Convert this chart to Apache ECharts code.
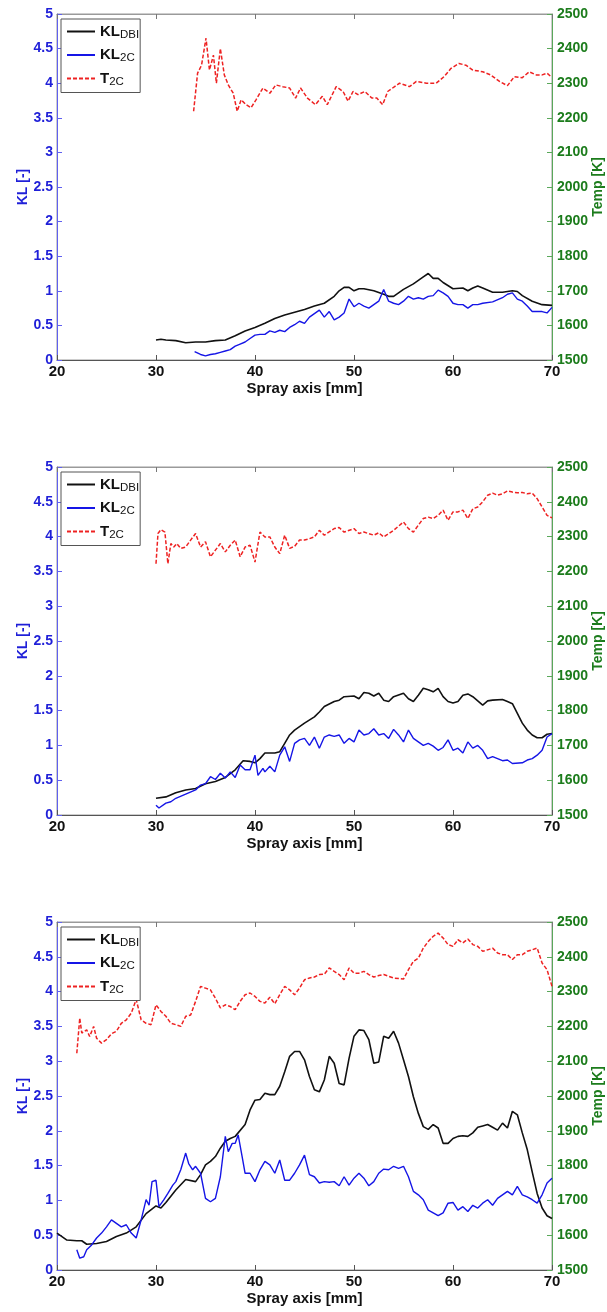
<!DOCTYPE html>
<html>
<head>
<meta charset="utf-8">
<title>KL and temperature along the spray axis</title>
<script src="https://cdn.jsdelivr.net/npm/echarts@6/dist/echarts.min.js"></script>
<style>
  html, body { margin: 0; padding: 0; background: #fff; }
  #chart { width: 607px; height: 1312px; }
</style>
</head>
<body>
<div id="chart"></div>
<script>
// ---- data: [spray axis position (mm), value] ----
// Case 1
const dbi1 = [[30,0.29],[30.5,0.30],[31,0.29],[32,0.28],[33,0.25],[34,0.26],[35,0.26],[36,0.28],[37,0.29],[38,0.35],[39,0.42],[40,0.47],[41,0.53],[42,0.60],[43,0.65],[44,0.69],[45,0.73],[46,0.78],[47,0.82],[48,0.92],[48.5,1.00],[49,1.05],[49.5,1.05],[50,1.00],[50.5,1.03],[51,1.03],[52,1.00],[53,0.95],[53.5,0.92],[54,0.92],[55,1.02],[56,1.10],[57,1.20],[57.5,1.25],[58,1.18],[58.5,1.18],[59,1.12],[60,1.03],[61,1.04],[61.5,1.00],[62,1.04],[62.5,1.07],[63,1.04],[64,0.98],[65,0.98],[66,1.00],[66.5,0.99],[67,0.93],[68,0.85],[69,0.80],[70,0.79]];
const kl2c1 = [[33.9,0.12],[34.5,0.08],[35,0.06],[35.5,0.08],[36,0.09],[36.5,0.11],[37,0.13],[37.5,0.15],[38,0.20],[38.5,0.23],[39,0.26],[39.5,0.31],[40,0.36],[40.5,0.37],[41,0.37],[41.5,0.42],[42,0.40],[42.5,0.43],[43,0.41],[43.5,0.47],[44,0.51],[44.5,0.56],[45,0.53],[45.5,0.62],[46,0.67],[46.5,0.72],[47,0.62],[47.5,0.70],[48,0.58],[48.5,0.62],[49,0.68],[49.5,0.88],[50,0.77],[50.5,0.82],[51,0.78],[51.5,0.75],[52,0.80],[52.5,0.85],[53,1.02],[53.5,0.85],[54,0.82],[54.5,0.80],[55,0.85],[55.5,0.92],[56,0.88],[56.5,0.90],[57,0.88],[57.5,0.92],[58,0.93],[58.5,1.01],[59,0.97],[59.5,0.92],[60,0.82],[60.5,0.80],[61,0.80],[61.5,0.75],[62,0.80],[62.5,0.80],[63,0.82],[64,0.84],[65,0.90],[65.5,0.95],[66,0.97],[66.5,0.88],[67,0.85],[67.5,0.78],[68,0.70],[69,0.70],[69.5,0.68],[70,0.76]];
const t2c1 = [[33.8,2219],[34.2,2329],[34.6,2352],[35.05,2430],[35.4,2338],[35.8,2381],[36.1,2300],[36.5,2400],[36.9,2324],[37.3,2295],[37.8,2271],[38.2,2219],[38.6,2252],[39.1,2238],[39.6,2229],[40.1,2252],[40.8,2286],[41.5,2271],[42.1,2295],[42.8,2290],[43.5,2286],[44.1,2257],[44.6,2286],[45.3,2257],[46.1,2238],[46.8,2262],[47.3,2238],[48.2,2290],[48.9,2276],[49.4,2248],[49.9,2276],[50.4,2267],[51.1,2276],[51.8,2257],[52.3,2257],[52.9,2238],[53.4,2276],[54.1,2290],[54.6,2300],[55.6,2290],[56.3,2305],[57.3,2300],[58.3,2300],[59.1,2319],[59.8,2343],[60.6,2357],[61.3,2352],[62.0,2338],[63.0,2333],[63.8,2324],[64.7,2305],[65.5,2293],[66.2,2319],[67.0,2316],[67.7,2333],[68.4,2324],[69.0,2324],[69.5,2329],[69.9,2319]];

// Case 2
const dbi2 = [[30,0.24],[31,0.26],[32,0.32],[33,0.36],[34,0.38],[35,0.45],[36,0.48],[37,0.54],[38,0.65],[38.8,0.78],[39.5,0.77],[40,0.75],[40.5,0.81],[41,0.89],[42,0.89],[42.5,0.91],[43,1.03],[43.5,1.15],[44,1.22],[45,1.32],[46,1.41],[46.5,1.48],[47,1.56],[48,1.63],[48.5,1.65],[49,1.70],[50,1.71],[50.5,1.67],[51,1.76],[51.5,1.75],[52,1.71],[52.5,1.75],[53,1.65],[53.5,1.63],[54,1.70],[55,1.75],[55.5,1.67],[56,1.63],[56.5,1.72],[57,1.82],[57.5,1.80],[58,1.77],[58.5,1.82],[59,1.70],[59.5,1.63],[60,1.61],[60.5,1.63],[61,1.72],[61.5,1.74],[62,1.70],[63,1.58],[63.5,1.64],[64,1.65],[65,1.66],[65.5,1.63],[66,1.60],[66.5,1.46],[67,1.32],[67.5,1.22],[68,1.15],[68.5,1.11],[69,1.11],[69.5,1.16],[70,1.17]];
const kl2c2 = [[30,0.14],[30.3,0.10],[31,0.17],[31.5,0.19],[32,0.24],[33,0.30],[34,0.36],[34.5,0.43],[35,0.45],[35.5,0.55],[36,0.51],[36.5,0.60],[37,0.53],[37.5,0.62],[38,0.54],[38.5,0.72],[39,0.65],[39.5,0.65],[40,0.86],[40.3,0.57],[40.8,0.67],[41,0.62],[41.5,0.70],[42,0.62],[42.5,0.86],[43,0.98],[43.5,0.77],[44,1.03],[44.5,1.08],[45,1.10],[45.5,1.00],[46,1.12],[46.5,0.96],[47,1.12],[47.5,1.15],[48,1.13],[48.5,1.15],[49,1.03],[49.5,1.10],[50,1.05],[50.5,1.22],[51,1.15],[51.5,1.17],[52,1.24],[52.5,1.15],[53,1.17],[53.5,1.10],[54,1.23],[54.5,1.15],[55,1.05],[55.5,1.22],[56,1.10],[57,1.00],[57.5,1.03],[58,0.99],[58.5,0.93],[59,0.97],[59.5,1.08],[60,0.93],[60.5,0.96],[61,0.89],[61.5,1.05],[62,0.96],[62.5,1.00],[63,0.93],[63.5,0.81],[64,0.84],[65,0.78],[65.5,0.79],[66,0.74],[67,0.75],[67.5,0.79],[68,0.81],[68.5,0.86],[69,0.93],[69.5,1.12],[70,1.17]];
const t2c2 = [[30,2222],[30.2,2309],[30.5,2320],[30.9,2313],[31.2,2222],[31.5,2280],[31.8,2270],[32.1,2280],[32.5,2266],[33,2270],[33.5,2290],[34,2309],[34.5,2270],[35,2285],[35.5,2242],[36,2261],[36.5,2280],[37,2256],[37.5,2275],[38,2290],[38.5,2242],[39,2270],[39.5,2275],[40,2227],[40.5,2313],[41,2299],[41.5,2299],[42,2270],[42.5,2251],[43,2304],[43.5,2266],[44,2272],[44.5,2290],[45,2290],[45.5,2294],[46,2299],[46.5,2318],[47,2304],[48,2323],[48.5,2326],[49,2313],[50,2323],[50.5,2309],[51,2313],[52,2304],[52.5,2311],[53,2299],[54,2318],[55,2342],[55.5,2323],[56,2313],[56.5,2333],[57,2352],[57.5,2356],[58,2352],[58.5,2361],[59,2376],[59.5,2347],[60,2371],[60.5,2371],[61,2376],[61.5,2352],[62,2380],[62.5,2385],[63,2400],[63.5,2419],[64,2425],[64.5,2419],[65,2423],[65.5,2431],[66,2428],[66.5,2426],[67,2427],[67.5,2423],[68,2425],[68.5,2409],[69,2385],[69.5,2361],[70,2354]];

// Case 3
const dbi3 = [[20,0.53],[21,0.43],[22,0.42],[22.5,0.42],[23,0.37],[24,0.38],[25,0.41],[26,0.48],[27,0.53],[28,0.62],[29,0.81],[30,0.92],[30.5,0.89],[31,0.97],[32,1.15],[33,1.30],[34,1.27],[34.5,1.37],[35,1.51],[35.5,1.56],[36,1.63],[36.5,1.75],[37,1.85],[37.5,1.89],[38,1.92],[39,2.09],[39.5,2.30],[40,2.44],[40.5,2.45],[41,2.54],[41.5,2.52],[42,2.52],[42.5,2.64],[43,2.85],[43.5,3.07],[44,3.14],[44.5,3.14],[45,3.02],[45.5,2.78],[46,2.59],[46.5,2.56],[47,2.73],[47.5,3.07],[48,2.97],[48.5,2.68],[49,2.66],[49.5,3.04],[50,3.36],[50.5,3.45],[51,3.44],[51.5,3.31],[52,2.97],[52.5,2.99],[53,3.36],[53.5,3.33],[54,3.43],[54.5,3.26],[55,3.02],[55.5,2.78],[56,2.49],[56.5,2.25],[57,2.06],[57.5,2.02],[58,2.09],[58.5,2.04],[59,1.82],[59.5,1.82],[60,1.89],[60.5,1.92],[61,1.93],[61.5,1.92],[62,1.97],[62.5,2.05],[63,2.07],[63.5,2.09],[64,2.05],[64.5,2.01],[65,2.11],[65.5,2.04],[66,2.28],[66.5,2.23],[67,1.97],[67.5,1.73],[68,1.41],[68.5,1.10],[69,0.89],[69.5,0.78],[70,0.74]];
const kl2c3 = [[22,0.29],[22.3,0.17],[22.7,0.19],[23,0.29],[23.5,0.36],[24,0.46],[24.5,0.53],[25,0.62],[25.5,0.72],[26,0.67],[26.5,0.62],[27,0.65],[27.5,0.53],[28,0.46],[28.5,0.72],[29,1.01],[29.3,0.93],[29.6,1.27],[30,1.29],[30.3,0.91],[30.8,1.01],[31.2,1.10],[31.7,1.22],[32,1.27],[32.5,1.44],[33,1.68],[33.3,1.53],[33.7,1.44],[34,1.49],[34.5,1.39],[35,1.03],[35.5,0.98],[36,1.03],[36.5,1.34],[37,1.92],[37.3,1.70],[37.7,1.82],[38,1.82],[38.3,1.94],[38.7,1.63],[39,1.39],[39.5,1.39],[40,1.27],[40.5,1.44],[41,1.56],[41.5,1.51],[42,1.39],[42.5,1.58],[43,1.29],[43.5,1.29],[44,1.39],[44.5,1.51],[45,1.65],[45.5,1.37],[46,1.34],[46.5,1.25],[47,1.27],[47.5,1.26],[48,1.27],[48.5,1.21],[49,1.34],[49.5,1.22],[50,1.32],[50.5,1.39],[51,1.32],[51.5,1.21],[52,1.27],[52.5,1.39],[53,1.45],[53.5,1.44],[54,1.49],[54.5,1.46],[55,1.49],[55.5,1.34],[56,1.13],[56.5,1.08],[57,1.01],[57.5,0.86],[58,0.82],[58.5,0.78],[59,0.82],[59.5,0.96],[60,0.97],[60.5,0.86],[61,0.91],[61.5,0.84],[62,0.93],[62.5,0.89],[63,0.96],[63.5,1.01],[64,0.93],[64.5,1.03],[65,1.08],[65.5,1.13],[66,1.08],[66.5,1.20],[67,1.08],[67.5,1.05],[68,1.01],[68.5,0.96],[69,1.08],[69.5,1.25],[70,1.32]];
const t2c3 = [[22,2123],[22.3,2224],[22.5,2181],[23,2190],[23.3,2171],[23.7,2200],[24,2166],[24.5,2152],[25,2162],[25.5,2179],[26,2186],[26.5,2209],[27,2219],[27.5,2238],[28,2277],[28.5,2219],[29,2209],[29.5,2205],[30,2262],[30.5,2243],[31,2229],[31.5,2209],[32,2205],[32.5,2200],[33,2229],[33.5,2233],[34,2272],[34.5,2315],[35,2310],[35.5,2305],[36,2281],[36.5,2253],[37,2262],[37.5,2257],[38,2248],[38.5,2272],[39,2291],[39.5,2296],[40,2286],[40.5,2272],[41,2267],[41.5,2284],[42,2265],[42.5,2291],[43,2315],[43.5,2305],[44,2291],[44.5,2310],[45,2334],[45.5,2339],[46,2342],[46.5,2349],[47,2350],[47.5,2368],[48,2358],[48.5,2349],[49,2334],[49.5,2368],[50,2353],[50.5,2353],[51,2358],[51.5,2349],[52,2342],[52.5,2346],[53,2349],[53.5,2344],[54,2339],[55,2336],[55.5,2363],[56,2387],[56.5,2396],[57,2425],[57.5,2444],[58,2459],[58.5,2468],[59,2454],[59.5,2435],[60,2430],[60.5,2449],[61,2440],[61.5,2451],[62,2435],[62.5,2430],[63,2416],[63.5,2420],[64,2425],[64.5,2411],[65,2406],[65.5,2406],[66,2392],[66.5,2406],[67,2406],[67.5,2416],[68,2420],[68.5,2425],[69,2382],[69.5,2363],[70,2315]];

const panels = [
  { dbi: dbi1, kl2c: kl2c1, t2c: t2c1 },
  { dbi: dbi2, kl2c: kl2c2, t2c: t2c2 },
  { dbi: dbi3, kl2c: kl2c3, t2c: t2c3 }
];

// ---- layout ----
const FONT = '"Liberation Sans", Arial, sans-serif';
const gridTops = [14, 467, 922];
const gridHeights = [346, 348, 348];
const GRID_LEFT = 57, GRID_RIGHT = 55;
const KL_COLOR = '#1f1fd8', KL_AXIS = '#6060f0';
const T_COLOR = '#1c7c1c', T_AXIS = '#5aa85a';

const grid = [], xAxis = [], yAxis = [], series = [], legend = [];

const legendNames = { KLDBI: '{b|KL}{s|DBI}', KL2C: '{b|KL}{s|2C}', T2C: '{b|T}{s|2C}' };

panels.forEach((p, i) => {
  grid.push({
    left: GRID_LEFT, right: GRID_RIGHT, top: gridTops[i], height: gridHeights[i],
    outerBoundsMode: 'none', containLabel: false,
    show: true, borderColor: '#9a9a9a', borderWidth: 1, backgroundColor: '#fff'
  });
  // bottom x axis
  xAxis.push({
    gridIndex: i, type: 'value', min: 20, max: 70, interval: 10, position: 'bottom',
    axisLine: { show: true, lineStyle: { color: '#555', width: 1 } },
    axisTick: { show: true, inside: true, length: 5, lineStyle: { color: '#555' } },
    axisLabel: { color: '#111', fontWeight: 'bold', fontSize: 15, fontFamily: FONT, margin: 4 },
    splitLine: { show: false },
    name: 'Spray axis [mm]', nameLocation: 'middle', nameGap: 21, nameMoveOverlap: false,
    nameTextStyle: { color: '#111', fontWeight: 'bold', fontSize: 15, fontFamily: FONT }
  });
  // left KL axis
  yAxis.push({
    gridIndex: i, type: 'value', min: 0, max: 5, interval: 0.5, position: 'left',
    axisLine: { show: true, lineStyle: { color: KL_AXIS, width: 1 } },
    axisTick: { show: true, inside: true, length: 5, lineStyle: { color: KL_AXIS } },
    axisLabel: { color: KL_COLOR, fontWeight: 'bold', fontSize: 14, fontFamily: FONT, margin: 4 },
    splitLine: { show: false },
    name: 'KL [-]', nameLocation: 'middle', nameGap: 27, nameMoveOverlap: false,
    nameTextStyle: { color: KL_COLOR, fontWeight: 'bold', fontSize: 14, fontFamily: FONT }
  });
});
panels.forEach((p, i) => {
  // top x axis (ticks only)
  xAxis.push({
    gridIndex: i, type: 'value', min: 20, max: 70, interval: 10, position: 'top',
    axisLine: { show: true, lineStyle: { color: '#9a9a9a', width: 1 } },
    axisTick: { show: true, inside: true, length: 5, lineStyle: { color: '#777' } },
    axisLabel: { show: false }, splitLine: { show: false }
  });
  // right temperature axis
  yAxis.push({
    gridIndex: i, type: 'value', min: 1500, max: 2500, interval: 100, position: 'right',
    axisLine: { show: true, lineStyle: { color: T_AXIS, width: 1 } },
    axisTick: { show: true, inside: true, length: 5, lineStyle: { color: T_AXIS } },
    axisLabel: { color: T_COLOR, fontWeight: 'bold', fontSize: 14, fontFamily: FONT, margin: 5,
                 formatter: v => String(v) },
    splitLine: { show: false },
    name: 'Temp [K]', nameLocation: 'middle', nameGap: 39, nameMoveOverlap: false,
    nameTextStyle: { color: T_COLOR, fontWeight: 'bold', fontSize: 14, fontFamily: FONT }
  });
});

panels.forEach((p, i) => {
  series.push({
    name: 'KLDBI', type: 'line', xAxisIndex: i, yAxisIndex: i, data: p.dbi,
    symbol: 'none', smooth: false, z: 3,
    lineStyle: { color: '#111', width: 1.6 }, itemStyle: { color: '#111' }
  });
  series.push({
    name: 'KL2C', type: 'line', xAxisIndex: i, yAxisIndex: i, data: p.kl2c,
    symbol: 'none', smooth: false, z: 3,
    lineStyle: { color: '#1515e6', width: 1.4 }, itemStyle: { color: '#1515e6' }
  });
  series.push({
    name: 'T2C', type: 'line', xAxisIndex: i, yAxisIndex: 3 + i, data: p.t2c,
    symbol: 'none', smooth: false, z: 3,
    lineStyle: { color: '#ee2222', width: 1.5, type: [4, 2] }, itemStyle: { color: '#ee2222' }
  });
  legend.push({
    orient: 'vertical', left: GRID_LEFT + 4, top: gridTops[i] + 5,
    data: ['KLDBI', 'KL2C', 'T2C'],
    backgroundColor: '#fff', borderColor: '#555', borderWidth: 1, borderRadius: 0,
    padding: [5, 1, 5, 5], itemGap: 7, itemWidth: 28, itemHeight: 14,
    selectedMode: false, z: 10,
    itemStyle: { opacity: 0 },
    formatter: name => legendNames[name],
    textStyle: {
      color: '#111', fontFamily: FONT,
      rich: {
        b: { fontSize: 15, fontWeight: 'bold', fontFamily: FONT, color: '#111', lineHeight: 18 },
        s: { fontSize: 11.5, fontFamily: FONT, color: '#111', lineHeight: 11, verticalAlign: 'bottom' }
      }
    }
  });
});

const chart = echarts.init(document.getElementById('chart'), null, { renderer: 'canvas' });
chart.setOption({
  animation: false,
  backgroundColor: '#fff',
  grid, xAxis, yAxis, series, legend
});
</script>
</body>
</html>
